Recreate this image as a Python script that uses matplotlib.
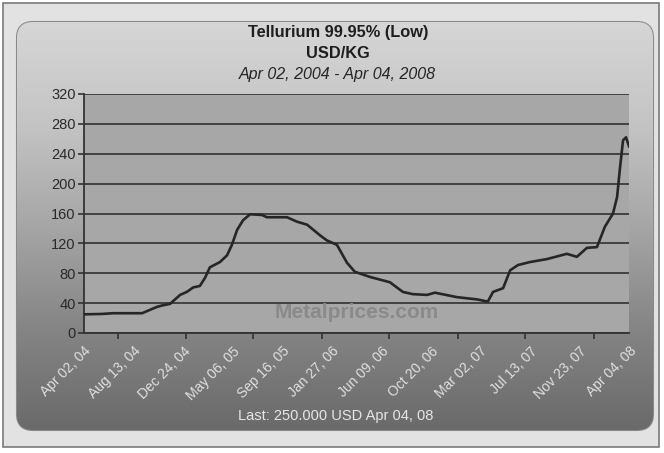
import numpy as np
import pandas as pd
import matplotlib
matplotlib.use("Agg")
import matplotlib.pyplot as plt
import matplotlib.dates as mdates
from matplotlib.patches import FancyBboxPatch, Rectangle

plt.rcParams['font.family'] = ['Liberation Sans', 'DejaVu Sans']

# weekly-ish price readings, USD/KG
dates = ['2004-04-02', '2004-05-20', '2004-06-20', '2004-09-05', '2004-10-15', '2004-10-30',
         '2004-11-19', '2004-12-16', '2005-01-03', '2005-01-20', '2005-02-07', '2005-02-21',
         '2005-03-06', '2005-04-02', '2005-04-21', '2005-05-04', '2005-05-18', '2005-06-03',
         '2005-06-22', '2005-07-24', '2005-08-06', '2005-09-29', '2005-10-26', '2005-11-22',
         '2005-12-26', '2006-01-14', '2006-02-10', '2006-03-09', '2006-03-30', '2006-05-10',
         '2006-07-02', '2006-08-06', '2006-09-02', '2006-10-10', '2006-10-31', '2006-12-29',
         '2007-02-21', '2007-03-22', '2007-04-05', '2007-05-02', '2007-05-21', '2007-06-11',
         '2007-07-13', '2007-08-28', '2007-10-20', '2007-11-16', '2007-12-13', '2008-01-09',
         '2008-01-30', '2008-02-21', '2008-03-03', '2008-03-11', '2008-03-19', '2008-03-27',
         '2008-04-04']
prices = [25, 25.5, 26.5, 26.5, 35, 37, 39, 51, 55, 61, 63, 74, 88, 95, 104, 118, 138, 151,
          159, 158, 155, 155, 149, 145, 131, 124, 118, 94, 82, 75, 68, 55, 52, 51, 54, 48, 45,
          42, 55, 60, 84, 91, 95, 99, 106, 102, 114, 115, 142, 160, 182, 222, 258, 262, 250]

xlabels = ['Apr 02, 04', 'Aug 13, 04', 'Dec 24, 04', 'May 06, 05', 'Sep 16, 05', 'Jan 27, 06',
           'Jun 09, 06', 'Oct 20, 06', 'Mar 02, 07', 'Jul 13, 07', 'Nov 23, 07', 'Apr 04, 08']
yticks = [0, 40, 80, 120, 160, 200, 240, 280, 320]

x = pd.to_datetime(dates)
xt = pd.to_datetime(xlabels, format='%b %d, %y')

W, H = 664, 453
fig = plt.figure(figsize=(W / 100, H / 100), dpi=100)
fig.patch.set_facecolor('white')

# background: outer frame + rounded gradient panel
bg = fig.add_axes([0, 0, 1, 1], zorder=-5)
bg.set_xlim(0, W)
bg.set_ylim(H, 0)
bg.axis('off')
bg.add_patch(Rectangle((3, 3), 656, 444, facecolor='#e2e2e2', edgecolor='#7a7a7a', lw=1.2))
panel = FancyBboxPatch((17, 22), 636, 408, boxstyle='round,pad=0,rounding_size=16',
                       facecolor='none', edgecolor='#8a8a8a', lw=1.5)
bg.add_patch(panel)
grad = np.linspace(0, 1, 256).reshape(-1, 1)
cmap = matplotlib.colors.LinearSegmentedColormap.from_list(
    'panel', ['#d6d6d6', '#c4c4c4', '#a6a6a6', '#858585', '#6a6a6a'])
im = bg.imshow(grad, cmap=cmap, aspect='auto', extent=(17, 653, 430, 22), zorder=1)
im.set_clip_path(panel)

bg.text(338, 33, 'Tellurium 99.95% (Low)', ha='center', va='center',
        fontsize=11.8, fontweight='bold', color='#1e1e1e')
bg.text(338, 53, 'USD/KG', ha='center', va='center',
        fontsize=11.8, fontweight='bold', color='#1e1e1e')
bg.text(337, 75, 'Apr 02, 2004 - Apr 04, 2008', ha='center', va='center',
        fontsize=11.5, style='italic', color='#262626')
bg.text(336, 416, 'Last: 250.000 USD Apr 04, 08', ha='center', va='center',
        fontsize=10.5, color='#e6e6e6')

# main chart
ax = fig.add_axes([84 / W, 1 - 333 / H, (629 - 84) / W, (333 - 94) / H])
ax.set_facecolor('#a7a7a7')
ax.set_xlim(xt[0], xt[-1])
ax.set_ylim(0, 320)
ax.set_yticks(yticks)
ax.yaxis.grid(True, color='#3a3a3a', lw=1.3)
ax.set_axisbelow(True)
ax.plot(x, prices, color='#262626', lw=1.9, solid_joinstyle='round', zorder=3)

ax.text(0.5, 0.085, 'Metalprices.com', transform=ax.transAxes, ha='center', va='center',
        fontsize=15, fontweight='bold', color='#8a8a8a', zorder=2)

for s in ['top', 'right']:
    ax.spines[s].set_visible(False)
for s in ['left', 'bottom']:
    ax.spines[s].set_color('#333333')
    ax.spines[s].set_linewidth(1.3)

ax.tick_params(axis='y', length=4, width=1.2, color='#333333', labelsize=10.5,
               labelcolor='#2a2a2a', pad=2)
ax.set_xticks(xt)
ax.set_xticklabels(xlabels, rotation=45, ha='right', va='top', rotation_mode='anchor',
                   fontsize=10, color='#e0e0e0')
ax.tick_params(axis='x', which='major', length=0, pad=8)
ax.xaxis.set_minor_locator(mdates.MonthLocator(bymonth=[1, 7]))
ax.tick_params(axis='x', which='minor', length=4, width=1.2, color='#333333')

fig.savefig('out.png', dpi=100)
